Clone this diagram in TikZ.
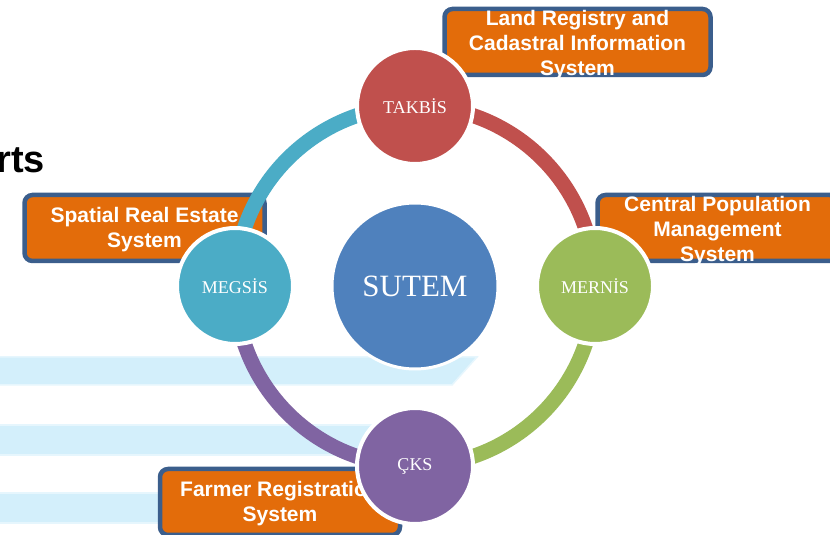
\documentclass[tikz,border=0pt]{standalone}
\usepackage{fontspec}
\setmainfont{Liberation Serif}
\setsansfont{Liberation Sans}
\definecolor{kastenorange}{HTML}{E36C0A}
\definecolor{kastenrand}{HTML}{3B5E8C}
\definecolor{rot}{HTML}{C0504D}
\definecolor{gruen}{HTML}{9BBB59}
\definecolor{lila}{HTML}{8064A2}
\definecolor{tuerkis}{HTML}{4BACC6}
\definecolor{blau}{HTML}{4F81BD}
\definecolor{bandblau}{HTML}{D3EFFB}
\definecolor{bandrand}{HTML}{E6F6FD}
\tikzset{
  kreis/.style={circle, draw=white, line width=4pt, minimum size=116pt,
    inner sep=0pt, text=white, font=\fontsize{18}{20}\selectfont},
  kasten/.style={rectangle, rounded corners=8pt, draw=kastenrand,
    line width=4.5pt, fill=kastenorange, minimum width=240pt,
    minimum height=66pt, inner sep=0pt},
  kastentext/.style={inner sep=0pt, align=center, text=white,
    font=\sffamily\bfseries\fontsize{21}{25}\selectfont},
  ring/.style={line width=15pt},
  band/.style={fill=bandblau, draw=bandrand, line width=1.5pt}
}
\begin{document}
\begin{tikzpicture}[x=1pt,y=1pt]
  \useasboundingbox (0,0) rectangle (830,535);
  \clip (0,0) rectangle (830,535);
  % Hintergrund
  \fill[white] (0,0) rectangle (830,535);
  \draw[band] (-5,150) -- (452,150) -- (477,178) -- (-5,178) -- cycle;
  \draw[band] (-5,80) rectangle (440,110);
  \draw[band] (-5,12) rectangle (420,42);
  \node[anchor=base east, inner sep=0pt,
    font=\sffamily\bfseries\fontsize{38}{40}\selectfont] (titel) at (45,362) {rts};
  % Kästen
  \node[kasten, minimum width=266pt] (land) at (577.5,493) {};
  \node[kasten] (zentral) at (717.5,307) {};
  \node[kasten] (raum) at (144.5,307) {};
  \node[kasten] (bauer) at (280,33) {};
  % Beschriftungen der Kästen
  \node[kastentext] at ([yshift=-3pt]land.center)
    {Land Registry and\\Cadastral Information\\System};
  \node[kastentext] at ([yshift=-3pt]zentral.center)
    {Central Population\\Management\\System};
  \node[kastentext] at ([yshift=-2pt]raum.center) {Spatial Real Estate\\System};
  \node[kastentext] at ([yshift=-2pt]bauer.center) {Farmer Registration\\System};
  % Mittelpunkte
  \coordinate (M) at (415,249);
  \coordinate (T) at (415,429);
  \coordinate (R) at (595,249);
  \coordinate (U) at (415,69);
  \coordinate (L) at (235,249);
  % Ring
  \draw[ring, tuerkis] (L) arc[start angle=180, end angle=90, radius=180];
  \draw[ring, rot] (T) arc[start angle=90, end angle=0, radius=180];
  \draw[ring, gruen] (R) arc[start angle=0, end angle=-90, radius=180];
  \draw[ring, lila] (U) arc[start angle=-90, end angle=-180, radius=180];
  % Kreise
  \node[kreis, fill=blau, line width=3pt, minimum size=166pt,
    font=\fontsize{31}{34}\selectfont] (sutem) at (M) {SUTEM};
  \node[kreis, fill=rot] (takbis) at (T) {TAKBİS};
  \node[kreis, fill=gruen] (mernis) at (R) {MERNİS};
  \node[kreis, fill=lila] (cks) at (U) {ÇKS};
  \node[kreis, fill=tuerkis] (megsis) at (L) {MEGSİS};
\end{tikzpicture}
\end{document}
